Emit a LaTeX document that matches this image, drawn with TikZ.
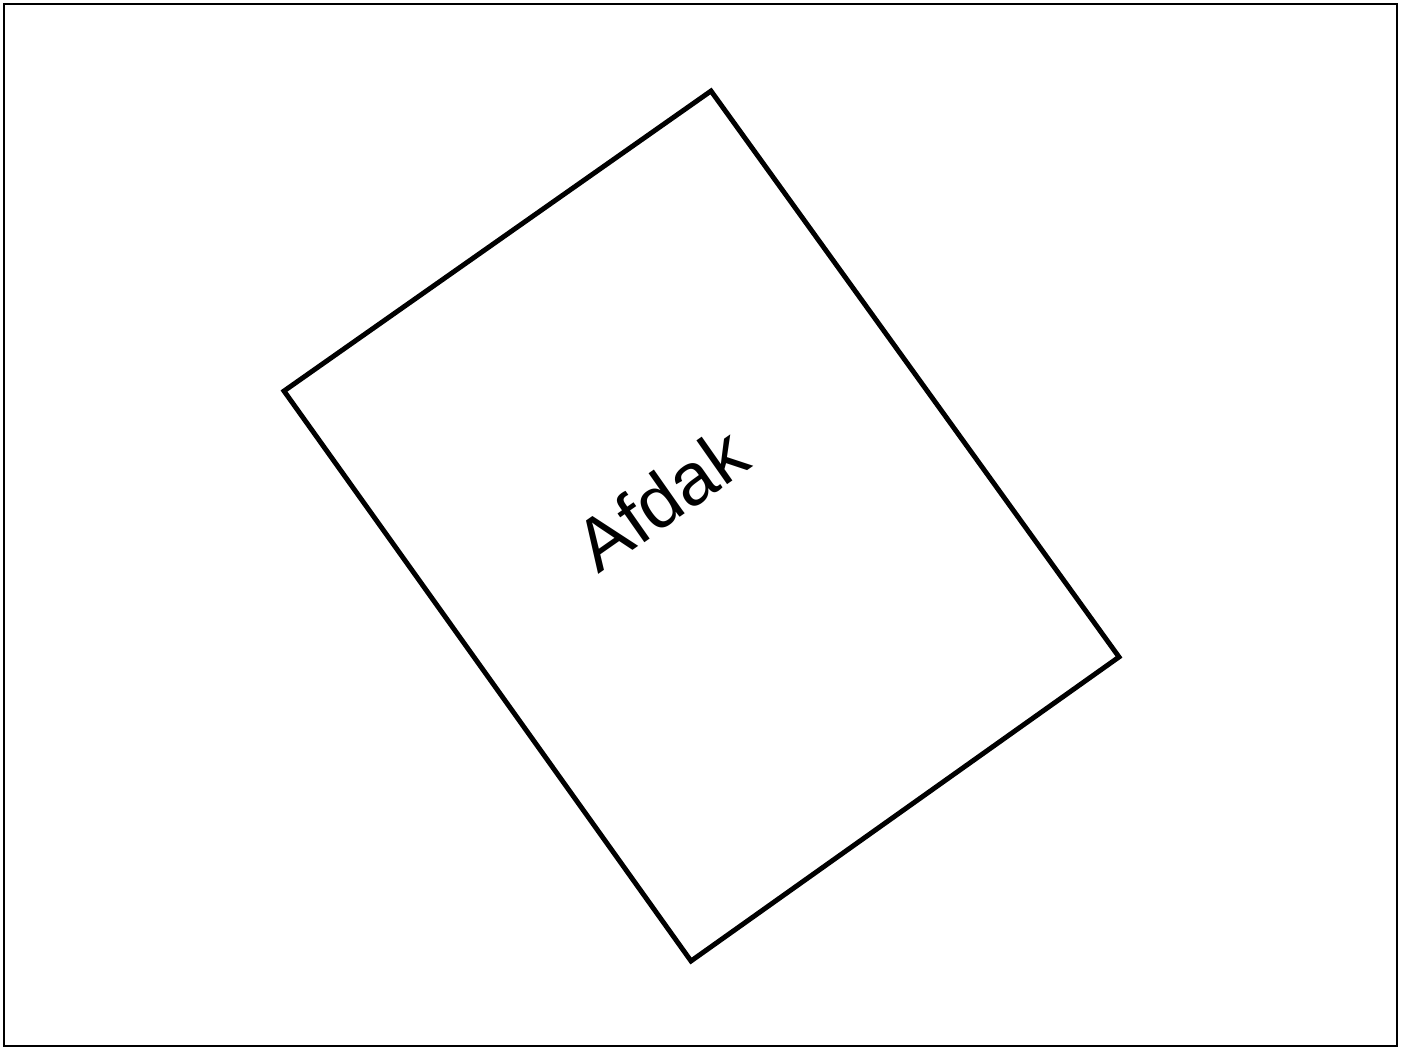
\documentclass[tikz,border=0pt]{standalone}
\usepackage{fontspec}
\setmainfont{Liberation Sans}
\usetikzlibrary{positioning}
\tikzset{
    frame/.style={
        draw=black, line width=1.3pt
    },
    shed/.style={
        draw=black, line width=2.8pt
    },
    shedlabel/.style={
        font=\fontsize{42}{48}\selectfont, text=black, inner sep=0pt
    }
}

\begin{document}
\begin{tikzpicture}[x=0.02cm, y=-0.02cm]

    \useasboundingbox (0,0) rectangle (1408,1048);
    \draw[frame] (4,4) rectangle (1397,1046);

    % corners of the shed
    \coordinate (top)    at (711,91);
    \coordinate (right)  at (1119,657);
    \coordinate (bottom) at (691,961);
    \coordinate (left)   at (284,391);

    \draw[shed] (top) -- (right) -- (bottom) -- (left) -- cycle;

    \node[shedlabel, rotate=35] (afdak) at (661,499) {Afdak};

\end{tikzpicture}
\end{document}
